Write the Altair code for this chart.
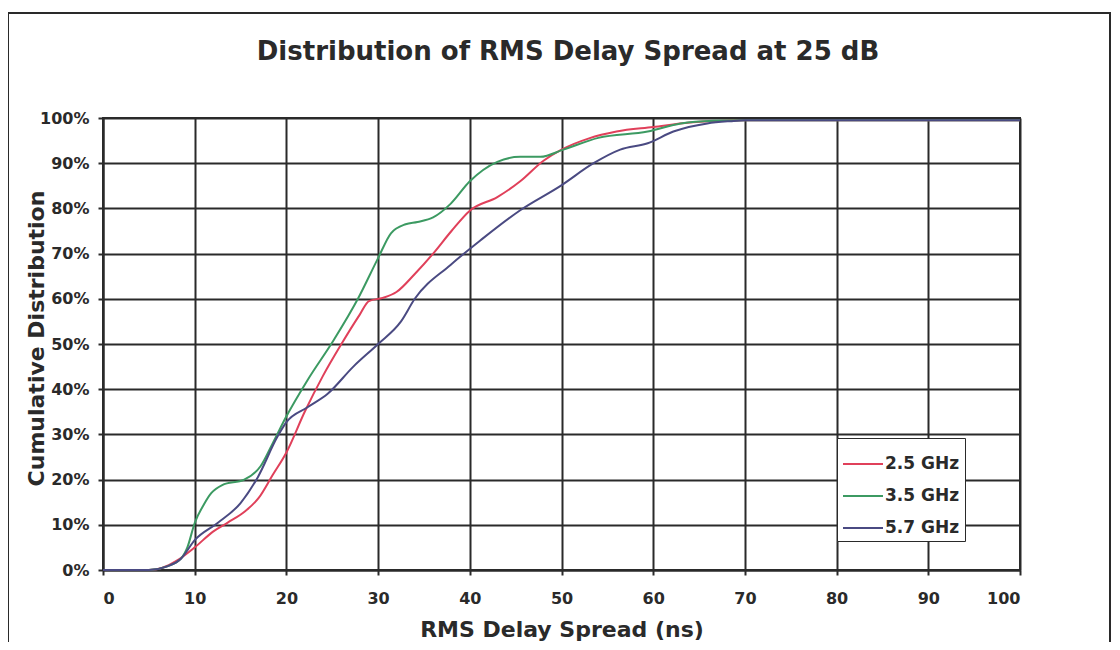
import altair as alt
import pandas as pd

title_text = "Distribution of RMS Delay Spread at 25 dB"
series_names = ["2.5 GHz", "3.5 GHz", "5.7 GHz"]
series_colors = ["#e0405a", "#3c9a62", "#4a4a82"]

red_x = [0, 5, 6.5, 8, 10, 12, 13.6, 15.5, 17, 18.5, 20, 22, 24, 26, 28, 29, 30.5, 32, 34, 36, 38, 40, 43, 45.5, 48, 50, 53, 56, 60, 64, 68, 70, 100]
red_y = [0, 0, 0.5, 2, 5, 8.5, 10.5, 13, 16, 21, 26, 35, 43, 50, 56.5, 59.5, 60.2, 61.5, 65.5, 70, 75, 79.5, 82.5, 86, 90.5, 93, 95.5, 97, 98, 99, 99.4, 99.5, 99.5]

green_x = [0, 5, 7, 8.5, 9.2, 10, 11, 11.8, 13, 15.4, 17.2, 18.5, 20, 22.3, 25.2, 27.8, 30, 31.4, 33, 34.3, 36, 37.9, 40, 43, 45.5, 47.7, 50.2, 54, 59.4, 63, 66.6, 70, 100]
green_y = [0, 0, 0.8, 2.5, 5, 10.4, 14.5, 17, 18.8, 20, 23, 28, 34, 42, 51, 60, 69, 74.5, 76.5, 77, 78, 81, 86, 90.3, 91.4, 91.4, 93, 95.6, 97, 98.8, 99.4, 99.5, 99.5]

blue_x = [0, 5, 7, 8.5, 10, 12.5, 15, 16.9, 19, 20, 22.3, 24.5, 27.3, 30, 32.5, 34, 37.9, 41.2, 45.5, 49.9, 53.5, 56.4, 59.4, 62.2, 65.9, 68.4, 70, 100]
blue_y = [0, 0, 0.8, 2.5, 6.6, 10.4, 14.8, 20.6, 29.4, 32.7, 36, 39, 45, 50, 55, 60, 67.5, 73, 79.6, 85, 90, 93, 94.4, 97, 98.8, 99.3, 99.5, 99.5]

x_ticks = [0, 10, 20, 30, 40, 50, 60, 70, 80, 90, 100]
y_ticks = [0, 0.1, 0.2, 0.3, 0.4, 0.5, 0.6, 0.7, 0.8, 0.9, 1.0]

rows = []
for name, xs, ys in zip(series_names, [red_x, green_x, blue_x], [red_y, green_y, blue_y]):
    for i, (x, y) in enumerate(zip(xs, ys)):
        rows.append({"series": name, "delay": x, "cdf": y / 100.0, "order": i})
df = pd.DataFrame(rows)

FONT = "DejaVu Sans"
INK = "#2a2a2a"

lines = alt.Chart(df).mark_line(strokeWidth=2, interpolate="monotone").encode(
    x=alt.X("delay:Q", scale=alt.Scale(domain=[0, 100], nice=False),
            axis=alt.Axis(values=x_ticks, title="RMS Delay Spread (ns)", grid=True,
                          labelPadding=15, titleY=66, titleBaseline="alphabetic")),
    y=alt.Y("cdf:Q", scale=alt.Scale(domain=[0, 1], nice=False),
            axis=alt.Axis(values=y_ticks, format=".0%", title="Cumulative Distribution",
                          grid=True, labelPadding=9, titleX=-67, titleY=220,
                          titleBaseline="middle", titleAlign="center")),
    color=alt.Color("series:N", scale=alt.Scale(domain=series_names, range=series_colors),
                    legend=alt.Legend(title=None, orient="none", legendX=734, legendY=320,
                                      symbolType="stroke", symbolSize=1600, symbolStrokeWidth=2,
                                      labelFontSize=17, labelFont=FONT, labelFontWeight="bold",
                                      labelColor=INK, strokeColor=INK, fillColor="white",
                                      padding=5, rowPadding=3, labelOffset=1)),
    order="order:Q",
)

frame = alt.Chart(pd.DataFrame({"a": [0]})).mark_rect(fill=None, stroke=INK, strokeWidth=2).encode(
    x=alt.value(-95), x2=alt.value(1007), y=alt.value(-105), y2=alt.value(560)
)

title = alt.Chart(pd.DataFrame({"t": [title_text]})).mark_text(
    font=FONT, fontWeight="bold", fontSize=26, color=INK, align="center", baseline="alphabetic"
).encode(text="t:N", x=alt.value(465), y=alt.value(-58))

chart = alt.layer(frame, lines, title).properties(
    width=917, height=452,
    padding={"left": 95, "top": 110, "right": 92, "bottom": 72},
    autosize=alt.AutoSizeParams(type="none"),
).configure_axis(
    gridColor=INK, gridWidth=2, gridOpacity=1,
    domainColor=INK, domainWidth=2,
    tickColor=INK, tickSize=5, tickWidth=2,
    labelFont=FONT, labelFontWeight="bold", labelFontSize=16, labelColor=INK,
    titleFont=FONT, titleFontWeight="bold", titleFontSize=22, titleColor=INK,
).configure_view(stroke=INK, strokeWidth=2)

chart.save("out.html", embed_options={"renderer": "svg", "actions": False})
